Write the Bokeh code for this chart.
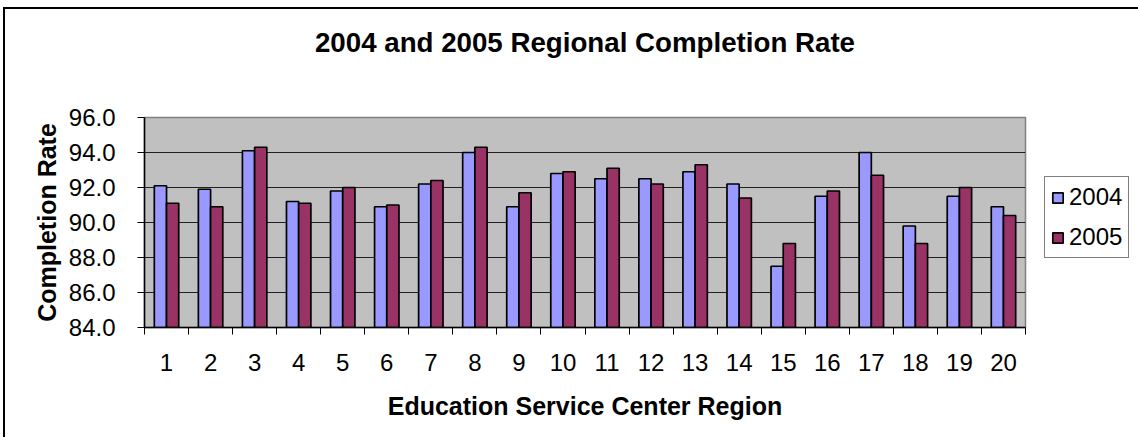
from bokeh.plotting import figure
from bokeh.models import (ColumnDataSource, Legend, LegendItem, FixedTicker, NumeralTickFormatter,
                          Range1d, LinearAxis)
from bokeh.transform import dodge
from bokeh.embed import file_html
from bokeh.resources import INLINE

regions = [1, 2, 3, 4, 5, 6, 7, 8, 9, 10, 11, 12, 13, 14, 15, 16, 17, 18, 19, 20]
rate_2004 = [92.1, 91.9, 94.1, 91.2, 91.8, 90.9, 92.2, 94.0, 90.9, 92.8,
             92.5, 92.5, 92.9, 92.2, 87.5, 91.5, 94.0, 89.8, 91.5, 90.9]
rate_2005 = [91.1, 90.9, 94.3, 91.1, 92.0, 91.0, 92.4, 94.3, 91.7, 92.9,
             93.1, 92.2, 93.3, 91.4, 88.8, 91.8, 92.7, 88.8, 92.0, 90.4]
y_ticks = [84, 86, 88, 90, 92, 94, 96]
series_names = ["2004", "2005"]
chart_title = "2004 and 2005 Regional Completion Rate"

FONT = "Liberation Sans"

src = ColumnDataSource(dict(region=regions, r2004=rate_2004, r2005=rate_2005))

p = figure(frame_width=881, frame_height=210, output_backend="svg", toolbar_location=None,
           x_range=Range1d(0.5, 20.5), y_range=Range1d(84, 96),
           min_border_left=144, min_border_right=108, min_border_top=117, min_border_bottom=110)
p.title = None
p.styles = {
    "background-image": "linear-gradient(black, black), linear-gradient(black, black)",
    "background-size": "2px 100%, 100% 2px",
    "background-position": "3px 7px, 3px 7px",
    "background-repeat": "no-repeat",
}

p.background_fill_color = "#C0C0C0"
p.border_fill_color = "white"
p.border_fill_alpha = 0
p.outline_line_color = "#808080"
p.outline_line_width = 1.5

bw = 0.277
r1 = p.vbar(x=dodge("region", -bw / 2, range=p.x_range), top="r2004", bottom=84, width=bw,
            source=src, fill_color="#9999FF", line_color="black", line_width=1.7)
r2 = p.vbar(x=dodge("region", bw / 2, range=p.x_range), top="r2005", bottom=84, width=bw,
            source=src, fill_color="#993366", line_color="black", line_width=1.7)

# x axis (bottom)
xa = p.below[0]
xa.ticker = FixedTicker(ticks=regions, minor_ticks=[r - 0.5 for r in regions] + [20.5])
xa.major_tick_out = 0
xa.major_tick_in = 0
xa.minor_tick_out = 7
xa.minor_tick_in = 0
xa.minor_tick_line_color = "black"
xa.axis_line_color = "black"
xa.axis_line_width = 1.5
xa.major_label_text_font = FONT
xa.major_label_text_font_size = "24px"
xa.major_label_text_color = "black"
xa.major_label_standoff = 19
xa.axis_label = "Education Service Center Region"
xa.axis_label_text_font = FONT
xa.axis_label_text_font_size = "25px"
xa.axis_label_text_font_style = "bold"
xa.axis_label_text_color = "black"
xa.axis_label_standoff = 18

# y axis (left)
ya = p.left[0]
ya.ticker = FixedTicker(ticks=y_ticks)
ya.formatter = NumeralTickFormatter(format="0.0")
ya.major_tick_out = 7
ya.major_tick_in = 0
ya.minor_tick_out = 0
ya.minor_tick_in = 0
ya.major_tick_line_color = "black"
ya.axis_line_color = "black"
ya.axis_line_width = 1.5
ya.major_label_text_font = FONT
ya.major_label_text_font_size = "24px"
ya.major_label_text_color = "black"
ya.major_label_standoff = 22
ya.axis_label = "Completion Rate"
ya.axis_label_text_font = FONT
ya.axis_label_text_font_size = "25px"
ya.axis_label_text_font_style = "bold"
ya.axis_label_text_color = "black"
ya.axis_label_standoff = 5

p.xgrid.grid_line_color = None
p.ygrid.grid_line_color = "#202020"
p.ygrid.grid_line_width = 1.2

# title drawn as the label of an empty axis above the plot
ta = LinearAxis(ticker=FixedTicker(ticks=[]), axis_line_color=None,
                major_tick_out=0, major_tick_in=0, minor_tick_out=0, minor_tick_in=0)
ta.axis_label = chart_title
ta.axis_label_text_font = FONT
ta.axis_label_text_font_size = "27.7px"
ta.axis_label_text_font_style = "bold"
ta.axis_label_text_color = "black"
ta.axis_label_standoff = 60
p.add_layout(ta, "above")

legend = Legend(items=[LegendItem(label=series_names[0], renderers=[r1]),
                       LegendItem(label=series_names[1], renderers=[r2])],
                location=(19, 69))
legend.margin = 0
legend.padding = 6
legend.spacing = 12
legend.glyph_width = 13
legend.glyph_height = 13
legend.label_standoff = 5
legend.label_height = 26
legend.label_text_font = FONT
legend.label_text_font_size = "24px"
legend.label_text_color = "black"
legend.border_line_color = "black"
legend.border_line_width = 1
legend.background_fill_color = "white"
p.add_layout(legend, "right")

open("out.html", "w").write(file_html(p, INLINE))
